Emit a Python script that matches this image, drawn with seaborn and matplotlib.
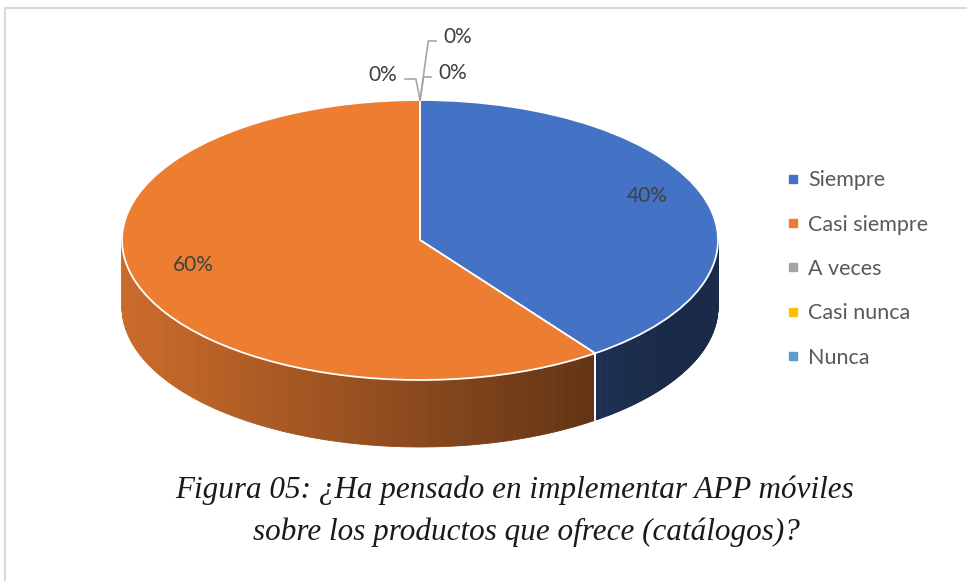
import numpy as np
import matplotlib
matplotlib.use("Agg")
import matplotlib.pyplot as plt
import matplotlib.colors as mcolors
from matplotlib.lines import Line2D
from matplotlib.patches import Polygon
import seaborn as sns

categories = ["Siempre", "Casi siempre", "A veces", "Casi nunca", "Nunca"]
shares = [40, 60, 0, 0, 0]
colors = ["#4472C4", "#ED7D31", "#A5A5A5", "#FFC000", "#5B9BD5"]
title_lines = ["Figura 05: ¿Ha pensado en implementar APP móviles",
               "sobre los productos que ofrece (catálogos)?"]

sns.set_theme(style="white")
plt.rcParams["font.family"] = ["Lato", "DejaVu Sans"]

W, H = 967, 581
fig = plt.figure(figsize=(W / 100, H / 100), dpi=100)
fig.patch.set_facecolor("white")
ax = fig.add_axes([0, 0, 1, 1])

# pie placement in pixels: centre, radii of the top ellipse, side depth
cx, cy, rx, ry, depth_px = 420, 240, 298, 140, 67
depth = depth_px / ry

wedges, _ = ax.pie(shares, colors=colors, startangle=90, counterclock=False,
                   wedgeprops=dict(edgecolor="white", linewidth=1.3, zorder=3),
                   frame=False)
ax.set_xlim(-cx / rx, (W - cx) / rx)
ax.set_ylim((cy - H) / ry, cy / ry)
ax.set_aspect("auto")
ax.axis("off")


def shade(base, x):
    f = np.clip(0.58 - 0.28 * x, 0.38, 1.0)
    return tuple(np.array(mcolors.to_rgb(base)) * f)


# visible front sides of each slice, shaded left to right
for w, c in zip(wedges, colors):
    t1, t2 = w.theta1, w.theta2
    if t2 - t1 <= 0:
        continue
    for off in (-360, 0, 360):
        a, b = max(t1 + off, -180), min(t2 + off, 0)
        if b <= a:
            continue
        angs = np.radians(np.linspace(a, b, 160))
        for i in range(len(angs) - 1):
            x0, x1 = np.cos(angs[i]), np.cos(angs[i + 1])
            y0, y1 = np.sin(angs[i]), np.sin(angs[i + 1])
            col = shade(c, (x0 + x1) / 2)
            ax.add_patch(Polygon([(x0, y0), (x1, y1), (x1, y1 - depth), (x0, y0 - depth)],
                                 closed=True, facecolor=col, edgecolor=col,
                                 linewidth=0.6, zorder=1))
        for t in (a, b):
            if -180 < t < 0:
                tx, ty = np.cos(np.radians(t)), np.sin(np.radians(t))
                ax.plot([tx, tx], [ty, ty - depth], color="white", lw=1.3, zorder=2)

# percentage labels
zero_offsets = [(-37, 25), (33, 27), (38, 63)]
zero_angles = [101, 81, 82]
zi = 0
for w, v in zip(wedges, shares):
    mid = np.radians((w.theta1 + w.theta2) / 2)
    if v > 0:
        ax.text(0.8 * np.cos(mid), 0.8 * np.sin(mid) + 0.07, f"{v}%", ha="center", va="center",
                fontsize=15, color="#404040", zorder=5)
    else:
        dx, dy = zero_offsets[zi]
        ax.annotate(f"{v}%", xy=(np.cos(mid), np.sin(mid)), xytext=(dx, dy),
                    textcoords="offset pixels", ha="center", va="center",
                    fontsize=15, color="#404040", zorder=5,
                    arrowprops=dict(arrowstyle="-", color="#A6A6A6", lw=1.2,
                                    connectionstyle=f"angle,angleA=0,angleB={zero_angles[zi]},rad=0",
                                    relpos=(1, 0.3) if dx < 0 else (0, 0.3),
                                    shrinkA=3, shrinkB=0))
        zi += 1

# legend
handles = [Line2D([], [], marker="s", ls="", color=c, markersize=6) for c in colors]
fig.legend(handles, categories, loc="center left", bbox_to_anchor=(788 / W, 1 - 269 / H),
           frameon=False, fontsize=15.5, labelcolor="#595959", handlelength=0.5,
           handletextpad=0.45, labelspacing=1.13, borderpad=0, borderaxespad=0)

# caption
fig.text(515 / W, 1 - 490 / H, title_lines[0], ha="center", va="center",
         family="Liberation Serif", style="italic", fontsize=22.4, color="#1a1a1a")
fig.text(526 / W, 1 - 532 / H, title_lines[1], ha="center", va="center",
         family="Liberation Serif", style="italic", fontsize=22.4, color="#1a1a1a")

# chart frame (cut off at right and bottom)
fig.add_artist(Line2D([5 / W, 1], [1 - 8 / H, 1 - 8 / H], color="#D9D9D9", lw=1.5))
fig.add_artist(Line2D([5 / W, 5 / W], [0, 1 - 8 / H], color="#D9D9D9", lw=1.5))

fig.savefig("out.png", dpi=100, facecolor="white")
